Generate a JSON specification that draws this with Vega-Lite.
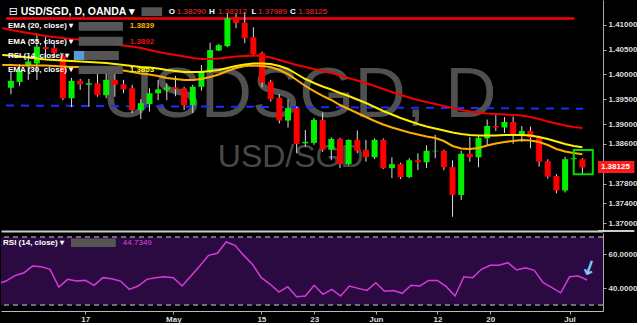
{
"$schema": "https://vega.github.io/schema/vega-lite/v6.json",
"background": "#000000",
"padding": 0,
"spacing": 1,
"config": {"view": {"stroke": null}, "axis": {"grid": false, "labelFont": "Liberation Sans", "labelOverlap": false}},
"datasets": {"bars": [
{"date":"2017-04-03","n":0,"ema20":1.4019,"ema30":1.40391,"ema55":1.40936,"rsi":42.5},
{"date":"2017-04-04","n":1,"open":1.3973,"high":1.4005,"low":1.396,"close":1.3987,"ema20":1.4019,"ema30":1.40381,"ema55":1.40895,"rsi":44.1},
{"date":"2017-04-05","n":2,"open":1.3985,"high":1.4021,"low":1.3977,"close":1.4007,"ema20":1.40179,"ema30":1.40361,"ema55":1.40865,"rsi":47.3},
{"date":"2017-04-06","n":3,"open":1.4018,"high":1.4037,"low":1.3989,"close":1.4026,"ema20":1.40179,"ema30":1.40341,"ema55":1.40835,"rsi":48.8},
{"date":"2017-04-07","n":4,"open":1.4022,"high":1.4083,"low":1.3989,"close":1.4056,"ema20":1.40179,"ema30":1.40321,"ema55":1.40804,"rsi":52.9},
{"date":"2017-04-10","n":5,"open":1.4055,"high":1.4079,"low":1.4029,"close":1.4051,"ema20":1.40179,"ema30":1.403,"ema55":1.40774,"rsi":52.5},
{"date":"2017-04-11","n":6,"open":1.4053,"high":1.4063,"low":1.4035,"close":1.4043,"ema20":1.40169,"ema30":1.4029,"ema55":1.40754,"rsi":51.0},
{"date":"2017-04-12","n":7,"open":1.4037,"high":1.4043,"low":1.3948,"close":1.3952,"ema20":1.40159,"ema30":1.4028,"ema55":1.40734,"rsi":40.6},
{"date":"2017-04-13","n":8,"open":1.3952,"high":1.3993,"low":1.3934,"close":1.3987,"ema20":1.40149,"ema30":1.4027,"ema55":1.40714,"rsi":45.1},
{"date":"2017-04-14","n":9,"open":1.3987,"high":1.3991,"low":1.3969,"close":1.398,"ema20":1.40149,"ema30":1.4026,"ema55":1.40704,"rsi":44.1},
{"date":"2017-04-17","n":10,"open":1.3979,"high":1.3991,"low":1.3935,"close":1.3982,"ema20":1.40139,"ema30":1.4025,"ema55":1.40683,"rsi":44.5},
{"date":"2017-04-18","n":11,"open":1.3982,"high":1.4002,"low":1.3955,"close":1.3958,"ema20":1.40129,"ema30":1.4024,"ema55":1.40653,"rsi":41.6},
{"date":"2017-04-19","n":12,"open":1.3958,"high":1.4003,"low":1.3952,"close":1.3989,"ema20":1.40129,"ema30":1.4023,"ema55":1.40623,"rsi":46.1},
{"date":"2017-04-20","n":13,"open":1.3989,"high":1.4001,"low":1.3955,"close":1.3979,"ema20":1.40109,"ema30":1.4021,"ema55":1.40603,"rsi":45.5},
{"date":"2017-04-21","n":14,"open":1.398,"high":1.3989,"low":1.3962,"close":1.397,"ema20":1.40079,"ema30":1.4019,"ema55":1.40583,"rsi":44.1},
{"date":"2017-04-24","n":15,"open":1.3972,"high":1.3979,"low":1.3922,"close":1.3928,"ema20":1.40048,"ema30":1.40169,"ema55":1.40563,"rsi":39.2},
{"date":"2017-04-25","n":16,"open":1.3928,"high":1.395,"low":1.391,"close":1.3942,"ema20":1.40018,"ema30":1.40149,"ema55":1.40532,"rsi":41.2},
{"date":"2017-04-26","n":17,"open":1.394,"high":1.3972,"low":1.3925,"close":1.3962,"ema20":1.39998,"ema30":1.40139,"ema55":1.40492,"rsi":45.1},
{"date":"2017-04-27","n":18,"open":1.3962,"high":1.3989,"low":1.3948,"close":1.397,"ema20":1.39968,"ema30":1.40119,"ema55":1.40452,"rsi":46.1},
{"date":"2017-04-28","n":19,"open":1.3969,"high":1.3982,"low":1.3948,"close":1.3974,"ema20":1.39927,"ema30":1.40089,"ema55":1.40421,"rsi":46.6},
{"date":"2017-05-01","n":20,"open":1.3974,"high":1.3997,"low":1.3956,"close":1.397,"ema20":1.39907,"ema30":1.40069,"ema55":1.40391,"rsi":46.1},
{"date":"2017-05-02","n":21,"open":1.3972,"high":1.3975,"low":1.3928,"close":1.3938,"ema20":1.39887,"ema30":1.40048,"ema55":1.40361,"rsi":41.2},
{"date":"2017-05-03","n":22,"open":1.3938,"high":1.3979,"low":1.3922,"close":1.3975,"ema20":1.39887,"ema30":1.40048,"ema55":1.40331,"rsi":47.1},
{"date":"2017-05-04","n":23,"open":1.3975,"high":1.4019,"low":1.3967,"close":1.4007,"ema20":1.39907,"ema30":1.40048,"ema55":1.40311,"rsi":52.9},
{"date":"2017-05-05","n":24,"open":1.4005,"high":1.4064,"low":1.4003,"close":1.4049,"ema20":1.39948,"ema30":1.40069,"ema55":1.40311,"rsi":59.2},
{"date":"2017-05-08","n":25,"open":1.4048,"high":1.4061,"low":1.4047,"close":1.4059,"ema20":1.39998,"ema30":1.40089,"ema55":1.40321,"rsi":60.4},
{"date":"2017-05-09","n":26,"open":1.4057,"high":1.4124,"low":1.4055,"close":1.4113,"ema20":1.40069,"ema30":1.40129,"ema55":1.40341,"rsi":67.1},
{"date":"2017-05-10","n":27,"open":1.4116,"high":1.4123,"low":1.4093,"close":1.4104,"ema20":1.40129,"ema30":1.40169,"ema55":1.40361,"rsi":65.1},
{"date":"2017-05-11","n":28,"open":1.4104,"high":1.4126,"low":1.4063,"close":1.4073,"ema20":1.40169,"ema30":1.402,"ema55":1.40371,"rsi":59.2},
{"date":"2017-05-12","n":29,"open":1.4075,"high":1.4095,"low":1.4037,"close":1.4041,"ema20":1.40179,"ema30":1.4022,"ema55":1.40381,"rsi":53.9},
{"date":"2017-05-15","n":30,"open":1.4043,"high":1.4046,"low":1.3974,"close":1.3983,"ema20":1.40169,"ema30":1.4022,"ema55":1.40371,"rsi":46.1},
{"date":"2017-05-16","n":31,"open":1.3985,"high":1.3989,"low":1.3945,"close":1.395,"ema20":1.40149,"ema30":1.4021,"ema55":1.40341,"rsi":42.2},
{"date":"2017-05-17","n":32,"open":1.3953,"high":1.396,"low":1.3901,"close":1.3907,"ema20":1.40089,"ema30":1.40169,"ema55":1.4029,"rsi":37.6},
{"date":"2017-05-18","n":33,"open":1.3907,"high":1.395,"low":1.3893,"close":1.3932,"ema20":1.40008,"ema30":1.40109,"ema55":1.4024,"rsi":40.8},
{"date":"2017-05-19","n":34,"open":1.3932,"high":1.3935,"low":1.3841,"close":1.386,"ema20":1.39887,"ema30":1.40008,"ema55":1.4019,"rsi":34.9},
{"date":"2017-05-22","n":35,"open":1.3861,"high":1.3888,"low":1.3854,"close":1.3864,"ema20":1.39766,"ema30":1.39907,"ema55":1.40149,"rsi":35.3},
{"date":"2017-05-23","n":36,"open":1.3862,"high":1.3912,"low":1.3858,"close":1.3908,"ema20":1.39665,"ema30":1.39827,"ema55":1.40109,"rsi":41.6},
{"date":"2017-05-24","n":37,"open":1.3908,"high":1.3923,"low":1.3844,"close":1.3848,"ema20":1.39565,"ema30":1.39756,"ema55":1.40069,"rsi":36.3},
{"date":"2017-05-25","n":38,"open":1.3848,"high":1.3873,"low":1.3827,"close":1.387,"ema20":1.39484,"ema30":1.39696,"ema55":1.40028,"rsi":39.2},
{"date":"2017-05-26","n":39,"open":1.387,"high":1.3872,"low":1.3811,"close":1.3819,"ema20":1.39383,"ema30":1.39625,"ema55":1.39978,"rsi":35.3},
{"date":"2017-05-29","n":40,"open":1.3819,"high":1.3869,"low":1.3817,"close":1.3868,"ema20":1.39302,"ema30":1.39565,"ema55":1.39927,"rsi":41.2},
{"date":"2017-05-30","n":41,"open":1.3868,"high":1.3887,"low":1.3841,"close":1.3846,"ema20":1.39222,"ema30":1.39494,"ema55":1.39877,"rsi":39.8},
{"date":"2017-05-31","n":42,"open":1.3848,"high":1.3868,"low":1.3824,"close":1.3833,"ema20":1.39141,"ema30":1.39423,"ema55":1.39827,"rsi":38.6},
{"date":"2017-06-01","n":43,"open":1.3833,"high":1.3871,"low":1.3829,"close":1.3868,"ema20":1.39061,"ema30":1.39343,"ema55":1.39766,"rsi":43.1},
{"date":"2017-06-02","n":44,"open":1.3868,"high":1.3871,"low":1.3809,"close":1.3811,"ema20":1.3899,"ema30":1.39262,"ema55":1.39706,"rsi":38.1},
{"date":"2017-06-05","n":45,"open":1.3811,"high":1.3833,"low":1.3791,"close":1.3819,"ema20":1.38929,"ema30":1.39192,"ema55":1.39645,"rsi":38.6},
{"date":"2017-06-06","n":46,"open":1.3819,"high":1.3822,"low":1.3789,"close":1.3793,"ema20":1.38879,"ema30":1.39121,"ema55":1.39585,"rsi":36.9},
{"date":"2017-06-07","n":47,"open":1.3793,"high":1.3831,"low":1.3791,"close":1.3827,"ema20":1.38829,"ema30":1.39061,"ema55":1.39534,"rsi":41.6},
{"date":"2017-06-08","n":48,"open":1.3827,"high":1.3841,"low":1.3807,"close":1.3823,"ema20":1.38788,"ema30":1.39,"ema55":1.39484,"rsi":41.2},
{"date":"2017-06-09","n":49,"open":1.3823,"high":1.3857,"low":1.3811,"close":1.3846,"ema20":1.38748,"ema30":1.3895,"ema55":1.39444,"rsi":44.5},
{"date":"2017-06-12","n":50,"open":1.3845,"high":1.3878,"low":1.3831,"close":1.3846,"ema20":1.38718,"ema30":1.38909,"ema55":1.39403,"rsi":44.5},
{"date":"2017-06-13","n":51,"open":1.3846,"high":1.3848,"low":1.3807,"close":1.3813,"ema20":1.38657,"ema30":1.38869,"ema55":1.39363,"rsi":40.8},
{"date":"2017-06-14","n":52,"open":1.3813,"high":1.3827,"low":1.3713,"close":1.3757,"ema20":1.38557,"ema30":1.38829,"ema55":1.39323,"rsi":35.3},
{"date":"2017-06-15","n":53,"open":1.3757,"high":1.3846,"low":1.3747,"close":1.384,"ema20":1.38506,"ema30":1.38798,"ema55":1.39282,"rsi":46.6},
{"date":"2017-06-16","n":54,"open":1.384,"high":1.3874,"low":1.3824,"close":1.3833,"ema20":1.38496,"ema30":1.38778,"ema55":1.39252,"rsi":46.1},
{"date":"2017-06-19","n":55,"open":1.3833,"high":1.3878,"low":1.3813,"close":1.3872,"ema20":1.38516,"ema30":1.38768,"ema55":1.39232,"rsi":51.0},
{"date":"2017-06-20","n":56,"open":1.3871,"high":1.3909,"low":1.3856,"close":1.3896,"ema20":1.38567,"ema30":1.38768,"ema55":1.39212,"rsi":53.4},
{"date":"2017-06-21","n":57,"open":1.3896,"high":1.3918,"low":1.3886,"close":1.3893,"ema20":1.38607,"ema30":1.38768,"ema55":1.39202,"rsi":53.4},
{"date":"2017-06-22","n":58,"open":1.3893,"high":1.3914,"low":1.3882,"close":1.3904,"ema20":1.38637,"ema30":1.38778,"ema55":1.39192,"rsi":54.9},
{"date":"2017-06-23","n":59,"open":1.3904,"high":1.3915,"low":1.386,"close":1.3878,"ema20":1.38657,"ema30":1.38778,"ema55":1.39181,"rsi":50.6},
{"date":"2017-06-26","n":60,"open":1.3878,"high":1.3896,"low":1.3864,"close":1.3886,"ema20":1.38677,"ema30":1.38778,"ema55":1.39171,"rsi":51.9},
{"date":"2017-06-27","n":61,"open":1.3886,"high":1.3895,"low":1.3851,"close":1.3873,"ema20":1.38667,"ema30":1.38768,"ema55":1.39141,"rsi":50.4},
{"date":"2017-06-28","n":62,"open":1.3873,"high":1.3876,"low":1.3814,"close":1.3824,"ema20":1.38637,"ema30":1.38738,"ema55":1.39101,"rsi":43.1},
{"date":"2017-06-29","n":63,"open":1.3825,"high":1.3829,"low":1.379,"close":1.3794,"ema20":1.38577,"ema30":1.38698,"ema55":1.3905,"rsi":40.2},
{"date":"2017-06-30","n":64,"open":1.3795,"high":1.3799,"low":1.376,"close":1.3766,"ema20":1.38496,"ema30":1.38647,"ema55":1.3901,"rsi":37.2},
{"date":"2017-07-03","n":65,"open":1.3766,"high":1.3834,"low":1.3762,"close":1.3829,"ema20":1.38446,"ema30":1.38597,"ema55":1.3897,"rsi":46.6},
{"date":"2017-07-04","n":66,"open":1.3829,"high":1.3834,"low":1.3826,"close":1.3831,"ema20":1.38415,"ema30":1.38557,"ema55":1.3894,"rsi":47.1},
{"date":"2017-07-05","n":67,"open":1.3829,"high":1.38312,"low":1.37989,"close":1.38125,"ema20":1.3839,"ema30":1.3853,"ema55":1.3892,"rsi":44.7349}
]},
"vconcat": [
{
"width": 602, "height": 231,
"data": {"name": "bars"},
"layer": [
{"data": {"values": [{}]}, "mark": {"type": "text", "text": "USDSGD, D", "font": "Liberation Sans", "fontSize": 71, "color": "#505050", "align": "center", "baseline": "alphabetic"},
 "encoding": {"x": {"datum": 34.3, "type": "quantitative"}, "y": {"datum": 1.39141, "type": "quantitative"}}},
{"data": {"values": [{}]}, "mark": {"type": "text", "text": "USD/SGD", "font": "Liberation Sans", "fontSize": 32, "color": "#484848", "align": "center", "baseline": "alphabetic"},
 "encoding": {"x": {"datum": 33.31, "type": "quantitative"}, "y": {"datum": 1.38133, "type": "quantitative"}}},
{"data": {"values": [{}]}, "mark": {"type": "rule", "color": "#ff0000", "strokeWidth": 2.5, "clip": true},
 "encoding": {"x": {"datum": 0.43, "type": "quantitative"}, "x2": {"datum": 66.08}, "y": {"datum": 1.41127, "type": "quantitative"}}},
{"data": {"values": [{}]}, "mark": {"type": "rule", "color": "#1a2cff", "strokeWidth": 2, "strokeDash": [8, 7], "clip": true},
 "encoding": {"x": {"datum": 0.43, "type": "quantitative"}, "x2": {"datum": 67.1}, "y": {"datum": 1.39373, "type": "quantitative"}, "y2": {"datum": 1.39309}}},
{"mark": {"type": "rule", "color": "#dcdcdc", "strokeWidth": 1, "clip": true},
 "encoding": {
  "x": {"field": "n", "type": "quantitative", "title": null, "scale": {"domain": [0.43, 68.8], "nice": false, "zero": false},
        "axis": {"orient": "bottom", "labels": false, "ticks": false, "domainColor": "#cccccc", "domainWidth": 2, "grid": false}},
  "y": {"field": "low", "type": "quantitative", "title": null, "scale": {"domain": [1.36843, 1.415], "nice": false, "zero": false},
        "axis": {"orient": "right", "values": [1.41, 1.405, 1.4, 1.395, 1.39, 1.386, 1.378, 1.374, 1.37], "tickCount": 30, "format": ".5f", "labelColor": "#dddddd", "labelFontSize": 8, "labelFontWeight": "bold", "tickSize": 3, "tickColor": "#aaaaaa", "domainColor": "#aaaaaa", "labelPadding": 2, "grid": false, "labelOverlap": false}},
  "y2": {"field": "high"}}},
{"mark": {"type": "bar", "width": 6, "clip": true},
 "encoding": {
  "x": {"field": "n", "type": "quantitative", "title": null},
  "y": {"field": "open", "type": "quantitative", "title": null},
  "y2": {"field": "close"},
  "color": {"condition": {"test": "datum.close >= datum.open", "value": "#00f000"}, "value": "#ff0000"}}},
{"mark": {"type": "line", "color": "#f00000", "strokeWidth": 2, "clip": true},
 "encoding": {"x": {"field": "n", "type": "quantitative", "title": null}, "y": {"field": "ema55", "type": "quantitative", "title": null}}},
{"mark": {"type": "line", "color": "#ffee00", "strokeWidth": 2, "clip": true},
 "encoding": {"x": {"field": "n", "type": "quantitative", "title": null}, "y": {"field": "ema30", "type": "quantitative", "title": null}}},
{"mark": {"type": "line", "color": "#ffae00", "strokeWidth": 2, "clip": true},
 "encoding": {"x": {"field": "n", "type": "quantitative", "title": null}, "y": {"field": "ema20", "type": "quantitative", "title": null}}},
{"data": {"values": [{}]}, "mark": {"type": "rect", "fill": null, "fillOpacity": 0, "stroke": "#00e000", "strokeWidth": 2},
 "encoding": {"x": {"datum": 66.0, "type": "quantitative"}, "x2": {"datum": 68.2}, "y": {"datum": 1.38476, "type": "quantitative"}, "y2": {"datum": 1.37986}}},
{"data": {"values": [{}]}, "mark": {"type": "rule", "color": "#cccccc", "strokeWidth": 2, "clip": false},
 "encoding": {"x": {"datum": 68.8, "type": "quantitative"}, "x2": {"datum": 73}, "y": {"datum": 1.36843, "type": "quantitative"}}},
{"data": {"values": [{}]}, "mark": {"type": "rect", "color": "#555555"},
 "encoding": {"x": {"datum": 16.08, "type": "quantitative"}, "x2": {"datum": 18.46}, "y": {"datum": 1.41353, "type": "quantitative"}, "y2": {"datum": 1.41177}}},
{"data": {"values": [{}]}, "mark": {"type": "rect", "color": "#555555"},
 "encoding": {"x": {"datum": 8.82, "type": "quantitative"}, "x2": {"datum": 13.93}, "y": {"datum": 1.41056, "type": "quantitative"}, "y2": {"datum": 1.40881}}},
{"data": {"values": [{}]}, "mark": {"type": "rect", "color": "#555555"},
 "encoding": {"x": {"datum": 8.82, "type": "quantitative"}, "x2": {"datum": 13.93}, "y": {"datum": 1.4076, "type": "quantitative"}, "y2": {"datum": 1.40579}}},
{"data": {"values": [{}]}, "mark": {"type": "rect", "color": "#555555"},
 "encoding": {"x": {"datum": 9.5, "type": "quantitative"}, "x2": {"datum": 13.47}, "y": {"datum": 1.40472, "type": "quantitative"}, "y2": {"datum": 1.4029}}},
{"data": {"values": [{}]}, "mark": {"type": "rect", "color": "#5b9bd5"},
 "encoding": {"x": {"datum": 8.26, "type": "quantitative"}, "x2": {"datum": 9.5}, "y": {"datum": 1.40472, "type": "quantitative"}, "y2": {"datum": 1.4029}}},
{"data": {"values": [{}]}, "mark": {"type": "rect", "color": "#555555"},
 "encoding": {"x": {"datum": 8.82, "type": "quantitative"}, "x2": {"datum": 13.93}, "y": {"datum": 1.40175, "type": "quantitative"}, "y2": {"datum": 1.40008}}},
{"data": {"values": [{}]}, "mark": {"type": "text", "text": "⊟", "font": "DejaVu Sans", "fontSize": 11, "color": "#ffffff", "align": "center", "baseline": "middle"},
 "encoding": {"x": {"datum": 1.28, "type": "quantitative"}, "y": {"datum": 1.41258, "type": "quantitative"}}},
{"data": {"values": [{}]}, "mark": {"type": "text", "text": "USD/SGD, D, OANDA ▾", "font": "Liberation Sans", "fontSize": 10.5, "fontWeight": "bold", "color": "#ffffff", "align": "left", "baseline": "middle"},
 "encoding": {"x": {"datum": 2.134, "type": "quantitative"}, "y": {"datum": 1.41258, "type": "quantitative"}}},
{"data": {"values": [{}]}, "mark": {"type": "text", "text": "O", "font": "Liberation Sans", "fontSize": 8, "fontWeight": "bold", "color": "#ffffff", "align": "left", "baseline": "middle"},
 "encoding": {"x": {"datum": 19.22, "type": "quantitative"}, "y": {"datum": 1.41258, "type": "quantitative"}}},
{"data": {"values": [{}]}, "mark": {"type": "text", "text": "1.38290", "font": "Liberation Sans", "fontSize": 8, "color": "#ff2a2a", "align": "left", "baseline": "middle"},
 "encoding": {"x": {"datum": 20.16, "type": "quantitative"}, "y": {"datum": 1.41258, "type": "quantitative"}}},
{"data": {"values": [{}]}, "mark": {"type": "text", "text": "H", "font": "Liberation Sans", "fontSize": 8, "fontWeight": "bold", "color": "#ffffff", "align": "left", "baseline": "middle"},
 "encoding": {"x": {"datum": 23.87, "type": "quantitative"}, "y": {"datum": 1.41258, "type": "quantitative"}}},
{"data": {"values": [{}]}, "mark": {"type": "text", "text": "1.38312", "font": "Liberation Sans", "fontSize": 8, "color": "#ff2a2a", "align": "left", "baseline": "middle"},
 "encoding": {"x": {"datum": 24.92, "type": "quantitative"}, "y": {"datum": 1.41258, "type": "quantitative"}}},
{"data": {"values": [{}]}, "mark": {"type": "text", "text": "L", "font": "Liberation Sans", "fontSize": 8, "fontWeight": "bold", "color": "#ffffff", "align": "left", "baseline": "middle"},
 "encoding": {"x": {"datum": 28.78, "type": "quantitative"}, "y": {"datum": 1.41258, "type": "quantitative"}}},
{"data": {"values": [{}]}, "mark": {"type": "text", "text": "1.37989", "font": "Liberation Sans", "fontSize": 8, "color": "#ff2a2a", "align": "left", "baseline": "middle"},
 "encoding": {"x": {"datum": 29.54, "type": "quantitative"}, "y": {"datum": 1.41258, "type": "quantitative"}}},
{"data": {"values": [{}]}, "mark": {"type": "text", "text": "C", "font": "Liberation Sans", "fontSize": 8, "fontWeight": "bold", "color": "#ffffff", "align": "left", "baseline": "middle"},
 "encoding": {"x": {"datum": 33.23, "type": "quantitative"}, "y": {"datum": 1.41258, "type": "quantitative"}}},
{"data": {"values": [{}]}, "mark": {"type": "text", "text": "1.38125", "font": "Liberation Sans", "fontSize": 8, "color": "#ff2a2a", "align": "left", "baseline": "middle"},
 "encoding": {"x": {"datum": 34.19, "type": "quantitative"}, "y": {"datum": 1.41258, "type": "quantitative"}}},
{"data": {"values": [{}]}, "mark": {"type": "text", "text": "EMA (20, close) ▾", "font": "Liberation Sans", "fontSize": 8, "fontWeight": "bold", "color": "#ffffff", "align": "left", "baseline": "middle"},
 "encoding": {"x": {"datum": 0.66, "type": "quantitative"}, "y": {"datum": 1.40976, "type": "quantitative"}}},
{"data": {"values": [{}]}, "mark": {"type": "text", "text": "1.3839", "font": "Liberation Sans", "fontSize": 8, "fontWeight": "bold", "color": "#ffae00", "align": "left", "baseline": "middle"},
 "encoding": {"x": {"datum": 14.72, "type": "quantitative"}, "y": {"datum": 1.40976, "type": "quantitative"}}},
{"data": {"values": [{}]}, "mark": {"type": "text", "text": "EMA (55, close) ▾", "font": "Liberation Sans", "fontSize": 8, "fontWeight": "bold", "color": "#ffffff", "align": "left", "baseline": "middle"},
 "encoding": {"x": {"datum": 0.66, "type": "quantitative"}, "y": {"datum": 1.40663, "type": "quantitative"}}},
{"data": {"values": [{}]}, "mark": {"type": "text", "text": "1.3892", "font": "Liberation Sans", "fontSize": 8, "fontWeight": "bold", "color": "#e01010", "align": "left", "baseline": "middle"},
 "encoding": {"x": {"datum": 14.72, "type": "quantitative"}, "y": {"datum": 1.40663, "type": "quantitative"}}},
{"data": {"values": [{}]}, "mark": {"type": "text", "text": "RSI (14, close) ▾", "font": "Liberation Sans", "fontSize": 8, "fontWeight": "bold", "color": "#ffffff", "align": "left", "baseline": "middle"},
 "encoding": {"x": {"datum": 0.66, "type": "quantitative"}, "y": {"datum": 1.40381, "type": "quantitative"}}},
{"data": {"values": [{}]}, "mark": {"type": "text", "text": "EMA (30, close) ▾", "font": "Liberation Sans", "fontSize": 8, "fontWeight": "bold", "color": "#ffffff", "align": "left", "baseline": "middle"},
 "encoding": {"x": {"datum": 0.66, "type": "quantitative"}, "y": {"datum": 1.40089, "type": "quantitative"}}},
{"data": {"values": [{}]}, "mark": {"type": "text", "text": "1.3853", "font": "Liberation Sans", "fontSize": 8, "fontWeight": "bold", "color": "#ffff00", "align": "left", "baseline": "middle"},
 "encoding": {"x": {"datum": 14.72, "type": "quantitative"}, "y": {"datum": 1.40089, "type": "quantitative"}}},
{"data": {"values": [{}]}, "mark": {"type": "rect", "color": "#ff1a1a", "clip": false},
 "encoding": {"x": {"datum": 68.8, "type": "quantitative"}, "x2": {"datum": 73}, "y": {"datum": 1.38254, "type": "quantitative"}, "y2": {"datum": 1.38012}}},
{"data": {"values": [{}]}, "mark": {"type": "text", "text": "1.38125", "font": "Liberation Sans", "fontSize": 8, "fontWeight": "bold", "color": "#ffffff", "align": "left", "baseline": "middle", "clip": false},
 "encoding": {"x": {"datum": 69.14, "type": "quantitative"}, "y": {"datum": 1.38133, "type": "quantitative"}}}
]
},
{
"width": 602, "height": 78,
"data": {"name": "bars"},
"layer": [
{"data": {"values": [{}]}, "mark": {"type": "rect", "color": "#2b0a42"},
 "encoding": {"y": {"datum": 70, "type": "quantitative"}, "y2": {"datum": 30}}},
{"data": {"values": [{}]}, "mark": {"type": "rule", "color": "#d0d0d0", "strokeWidth": 1, "strokeDash": [5, 4]},
 "encoding": {"y": {"datum": 70, "type": "quantitative"}}},
{"data": {"values": [{}]}, "mark": {"type": "rule", "color": "#d0d0d0", "strokeWidth": 1, "strokeDash": [5, 4]},
 "encoding": {"y": {"datum": 30, "type": "quantitative"}}},
{"mark": {"type": "line", "color": "#d63ad6", "strokeWidth": 1.5, "clip": true},
 "encoding": {
  "x": {"field": "n", "type": "quantitative", "title": null, "scale": {"domain": [0.43, 68.8], "nice": false, "zero": false},
        "axis": {"orient": "bottom", "values": [10, 20, 30, 36, 43, 50, 56, 65], "tickCount": 30, "labelExpr": "datum.value == 10 ? '17' : datum.value == 20 ? 'May' : datum.value == 30 ? '15' : datum.value == 36 ? '23' : datum.value == 43 ? 'Jun' : datum.value == 50 ? '12' : datum.value == 56 ? '20' : 'Jul'", "labelColor": "#dddddd", "labelFontSize": 8, "labelFontWeight": "bold", "tickSize": 3, "tickColor": "#aaaaaa", "domainColor": "#bbbbbb", "labelPadding": 1, "grid": false}},
  "y": {"field": "rsi", "type": "quantitative", "title": null, "scale": {"domain": [26.5, 72.35], "nice": false, "zero": false},
        "axis": {"orient": "right", "values": [40, 60], "format": ".4f", "labelColor": "#dddddd", "labelFontSize": 8, "labelFontWeight": "bold", "tickSize": 3, "tickColor": "#aaaaaa", "domainColor": "#aaaaaa", "labelPadding": 2, "grid": false}}}},
{"data": {"values": [{}]}, "mark": {"type": "rect", "color": "#555555"},
 "encoding": {"x": {"datum": 8.37, "type": "quantitative"}, "x2": {"datum": 13.47}, "y": {"datum": 69.12, "type": "quantitative"}, "y2": {"datum": 64.12}}},
{"data": {"values": [{}]}, "mark": {"type": "text", "text": "RSI (14, close) ▾", "font": "Liberation Sans", "fontSize": 8, "fontWeight": "bold", "color": "#ffffff", "align": "left", "baseline": "middle"},
 "encoding": {"x": {"datum": 0.66, "type": "quantitative"}, "y": {"datum": 66.76, "type": "quantitative"}}},
{"data": {"values": [{}]}, "mark": {"type": "text", "text": "44.7349", "font": "Liberation Sans", "fontSize": 8, "color": "#d946d9", "align": "left", "baseline": "middle"},
 "encoding": {"x": {"datum": 14.27, "type": "quantitative"}, "y": {"datum": 66.76, "type": "quantitative"}}},
{"data": {"values": [{}]}, "mark": {"type": "text", "text": "↓", "font": "DejaVu Sans", "fontSize": 20, "fontWeight": "bold", "color": "#7fc8ff", "align": "center", "baseline": "middle", "angle": 20},
 "encoding": {"x": {"datum": 67.21, "type": "quantitative"}, "y": {"datum": 51.2, "type": "quantitative"}}}
]
}
]
}
